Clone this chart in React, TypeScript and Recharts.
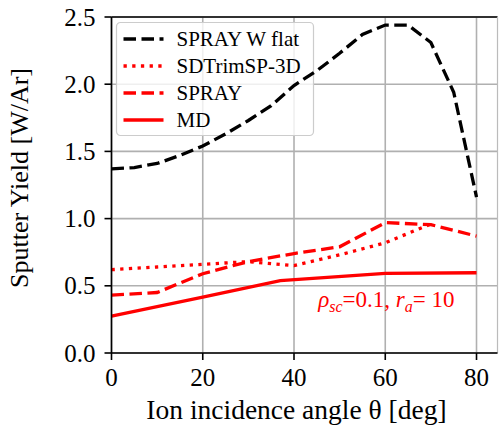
import React from 'react';
import { LineChart, Line, XAxis, YAxis, CartesianGrid, ReferenceLine, ReferenceDot, ReferenceArea, Label } from 'recharts';

const FONT = '"Times New Roman", "Liberation Serif", Times, serif';

const anglesW = [0, 5, 10, 15, 20, 25, 30, 35, 40, 45, 50, 55, 60, 65, 70, 75, 80];
const sprayWFlat = [1.37, 1.38, 1.41, 1.47, 1.54, 1.63, 1.73, 1.84, 1.99, 2.1, 2.23, 2.37, 2.44, 2.44, 2.31, 1.94, 1.16];

const anglesSD = [0, 10, 20, 30, 40, 50, 60, 70];
const sdTrim = [0.62, 0.64, 0.66, 0.68, 0.65, 0.73, 0.82, 0.96];

const anglesSpray = [0, 10, 20, 30, 40, 50, 60, 70, 80];
const spray = [0.43, 0.45, 0.59, 0.68, 0.74, 0.79, 0.97, 0.955, 0.87];

const anglesMD = [0, 20, 37, 60, 80];
const md = [0.275, 0.415, 0.538, 0.593, 0.597];

const xTicks = [0, 20, 40, 60, 80];
const yTicks = [0, 0.5, 1.0, 1.5, 2.0, 2.5];

const legendItems = [
  { name: 'SPRAY W flat', color: '#000000', dash: '12.5 5.5' },
  { name: 'SDTrimSP-3D', color: '#ff0000', dash: '3.3 5.4' },
  { name: 'SPRAY', color: '#ff0000', dash: '12.5 5.5' },
  { name: 'MD', color: '#ff0000', dash: undefined as string | undefined },
];

const toPts = (xs: number[], ys: number[]) => xs.map((x, i) => ({ x, y: ys[i] }));

const txt = (size: number, extra: any = {}) => ({ fontFamily: FONT, fontSize: size, ...extra });

const LegendShape = () => (
  <g transform="translate(116.5 22.5)">
    <rect x={0} y={0} width={197} height={113} rx={4} ry={4} fill="#ffffff" fillOpacity={0.8} stroke="#cccccc" strokeWidth={1.2} />
    {legendItems.map((it, i) => (
      <g key={it.name}>
        <line x1={7} x2={47} y1={16.5 + 27 * i} y2={16.5 + 27 * i} stroke={it.color} strokeWidth={3.3} strokeDasharray={it.dash} />
        <text x={60} y={23 + 27 * i} style={txt(21)} fill="#000">{it.name}</text>
      </g>
    ))}
  </g>
);

const Annotation = (props: any) => {
  const { cx, cy } = props;
  return (
    <text x={cx} y={cy} fill="#ff0000" style={txt(23)}>
      <tspan fontStyle="italic">ρ</tspan>
      <tspan fontStyle="italic" fontSize={16} dy={5}>sc</tspan>
      <tspan dy={-5}>=0.1, </tspan>
      <tspan fontStyle="italic">r</tspan>
      <tspan fontStyle="italic" fontSize={16} dy={5}>a</tspan>
      <tspan dy={-5}>= 10</tspan>
    </text>
  );
};

const XTick = (p: any) => (
  <text x={p.x} y={p.y} dy={18} textAnchor="middle" style={txt(25)} fill="#000">
    {p.payload.value}
  </text>
);

const YTick = (p: any) => (
  <text x={p.x} y={p.y} dy={8.5} textAnchor="end" style={txt(25)} fill="#000">
    {Number(p.payload.value).toFixed(1)}
  </text>
);

export default function App() {
  return (
    <div style={{ position: 'absolute', left: 0, top: 0, width: 499, height: 428, background: '#fff' }}>
      <LineChart width={499} height={428} margin={{ top: 17, right: 1.5, bottom: 0, left: 0 }}>
        <CartesianGrid stroke="#b0b0b0" strokeWidth={1.6} horizontalValues={yTicks} verticalValues={xTicks} />
        <XAxis
          type="number"
          dataKey="x"
          domain={[0, 84.6]}
          ticks={xTicks}
          allowDataOverflow
          height={75}
          tick={<XTick />}
          tickSize={7}
          tickMargin={8}
          axisLine={{ stroke: '#000', strokeWidth: 1.6 }}
          tickLine={{ stroke: '#000', strokeWidth: 1.6 }}
        >
          <Label
            content={() => (
              <text x={296.5} y={419} textAnchor="middle" style={txt(27.5)} fill="#000">
                Ion incidence angle θ [deg]
              </text>
            )}
          />
        </XAxis>
        <YAxis
          type="number"
          dataKey="y"
          domain={[0, 2.5]}
          ticks={yTicks}
          allowDataOverflow
          width={111.5}
          tick={<YTick />}
          tickSize={7}
          tickMargin={9}
          axisLine={{ stroke: '#000', strokeWidth: 1.6 }}
          tickLine={{ stroke: '#000', strokeWidth: 1.6 }}
        >
          <Label
            content={() => (
              <text x={28} y={178} transform="rotate(-90 28 178)" textAnchor="middle" style={txt(26)} fill="#000">
                Sputter Yield [W/Ar]
              </text>
            )}
          />
        </YAxis>
        <ReferenceLine y={2.5} stroke="#000" strokeWidth={1.6} />
        <ReferenceLine x={84.6} stroke="#bbbbbb" strokeWidth={1.2} />
        <ReferenceArea x1={0} x2={1} y1={2.4} y2={2.5} zIndex={100} shape={() => <LegendShape />} />
        <Line data={toPts(anglesW, sprayWFlat)} dataKey="y" name="SPRAY W flat" stroke="#000" strokeWidth={3.3} strokeDasharray="12.5 5.5" dot={false} isAnimationActive={false} type="linear" />
        <Line data={toPts(anglesSD, sdTrim)} dataKey="y" name="SDTrimSP-3D" stroke="#ff0000" strokeWidth={3.3} strokeDasharray="3.3 5.4" dot={false} isAnimationActive={false} type="linear" />
        <Line data={toPts(anglesSpray, spray)} dataKey="y" name="SPRAY" stroke="#ff0000" strokeWidth={3.3} strokeDasharray="12.5 5.5" dot={false} isAnimationActive={false} type="linear" />
        <Line data={toPts(anglesMD, md)} dataKey="y" name="MD" stroke="#ff0000" strokeWidth={3.3} dot={false} isAnimationActive={false} type="linear" />
        <ReferenceDot x={45.3} y={0.342} r={0} shape={(p: any) => <Annotation {...p} />} />
      </LineChart>
    </div>
  );
}
